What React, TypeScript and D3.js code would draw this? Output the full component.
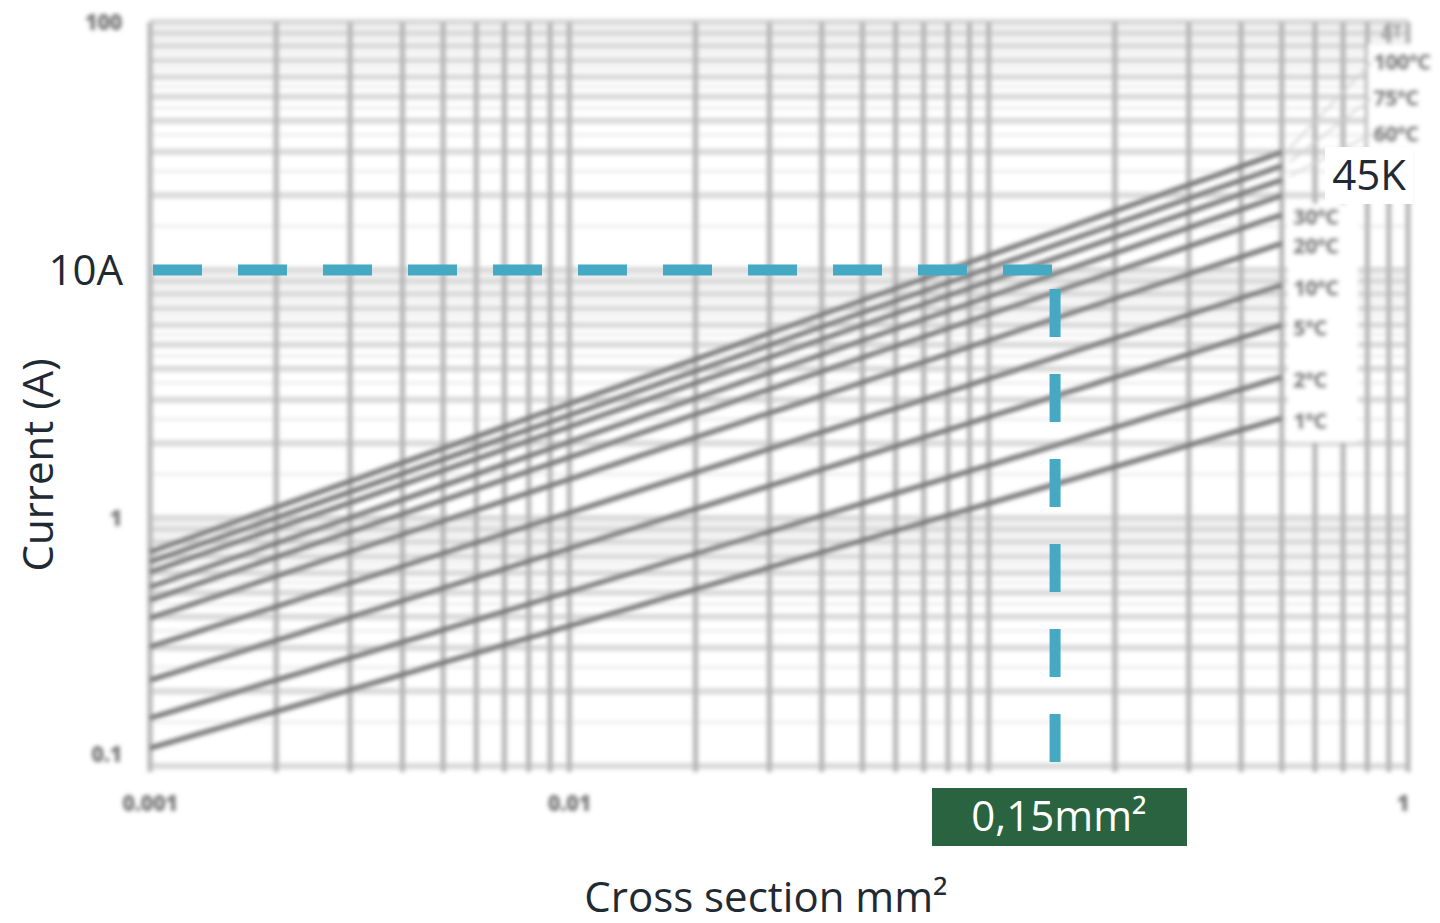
import * as d3 from 'd3';

// cross sections (mm²) at which each curve was read
const crossSections = [0.001, 0.5];
// temperature rise labels, top curve first
const riseLabels = ['100°C', '75°C', '60°C', '45°C', '30°C', '20°C', '10°C', '5°C', '2°C', '1°C'];
// current (A) at 0.001 mm² and at 0.5 mm²
const currentStart = [0.73, 0.665, 0.605, 0.527, 0.467, 0.395, 0.302, 0.222, 0.156, 0.118];
const currentEnd = [29.9, 26.3, 23.1, 20.0, 16.7, 12.8, 8.7, 6.0, 3.7, 2.53];

const xTickLabels = ['0.001', '0.01', '1'];
const xTickValues = [0.001, 0.01, 1];
const yTickLabels = ['0.1', '1', '100'];
const yTickValues = [0.1, 1, 100];

// highlighted read-off point (as drawn in the picture)
const markCurrent = 10;
const markSection = 0.144;

const W = 1440;
const H = 923;
const FONT = '"Open Sans", "Noto Sans", sans-serif';

export default function App() {
  const x = d3.scaleLog().domain([0.001, 1]).range([150, 1408]);
  const y = d3.scaleLog().domain([0.1, 100]).range([766, 22]);

  // grid values: 1..9 in each decade
  const decades = [0.001, 0.01, 0.1];
  const xGrid: number[] = [];
  decades.forEach(d => { for (let i = 1; i < 10; i++) xGrid.push(d * i); });
  xGrid.push(1);

  const yGrid: number[] = [];
  const yHalf: number[] = [];
  [0.1, 1, 10].forEach(d => {
    for (let i = 1; i < 10; i++) { yGrid.push(d * i); yHalf.push(d * (i + 0.5)); }
  });
  yGrid.push(100);

  const line = d3.line<[number, number]>().x(d => x(d[0])).y(d => y(d[1]));

  const curves = riseLabels.map((label, i) => ({
    label,
    points: [[crossSections[0], currentStart[i]], [crossSections[1], currentEnd[i]]] as [number, number][],
  }));

  const mx = x(markSection);
  const my = y(markCurrent);

  return (
    <svg width={W} height={H} style={{ position: 'absolute', left: 0, top: 0, background: '#fff' }}>
      <defs>
        <filter id="soft" x="-5%" y="-5%" width="110%" height="110%">
          <feGaussianBlur stdDeviation="2.2" />
        </filter>
      </defs>

      <g filter="url(#soft)">
        {/* horizontal grid */}
        {yHalf.map((v, i) => (
          <line key={'h' + i} x1={x(0.001)} x2={x(1)} y1={y(v)} y2={y(v)} stroke="#e4e4e4" strokeWidth={2} />
        ))}
        {yGrid.map((v, i) => (
          <line key={'g' + i} x1={x(0.001)} x2={x(1)} y1={y(v)} y2={y(v)} stroke="#d8d8d8" strokeWidth={6} />
        ))}
        {/* vertical grid */}
        {xGrid.map((v, i) => (
          <line key={'v' + i} x1={x(v)} x2={x(v)} y1={y(100)} y2={y(0.1) + 6} stroke="#b4b4b4" strokeWidth={5} />
        ))}

        {/* white panels behind the curve labels */}
        <rect x={1288} y={204} width={70} height={238} fill="#fff" />
        <rect x={1368} y={44} width={72} height={106} fill="#fff" />

        {/* leaders for the top labels */}
        {[0, 1, 2].map(i => (
          <line key={'l' + i} x1={x(crossSections[1]) + 8} y1={y(currentEnd[i]) - 4}
            x2={1372} y2={62 + i * 36} stroke="#d4d4d4" strokeWidth={2} />
        ))}

        {/* curves */}
        {curves.map(c => (
          <path key={c.label} d={line(c.points) ?? ''} fill="none" stroke="#707070" strokeWidth={5} />
        ))}

        {/* curve labels (the 45°C one sits under the 45K badge) */}
        {curves.map((c, i) => {
          if (i === 3) return null;
          const top = i < 3;
          const lx = top ? 1373 : 1293;
          const ly = top ? 62 + i * 36 : y(currentEnd[i]) + 3;
          return (
            <text key={'t' + c.label} x={lx} y={ly} dy="0.35em" fontFamily={FONT} fontWeight={800}
              fontSize={22} letterSpacing={-1} fill="#858585">{c.label}</text>
          );
        })}
        <text x={1381} y={32} dy="0.35em" fontFamily={FONT} fontWeight={700} fontSize={17} fill="#999">ΔT</text>

        {/* tick labels */}
        {yTickValues.map((v, i) => (
          <text key={'yt' + i} x={122} y={y(v) - (v === 0.1 ? 12 : 0)} dy="0.35em" textAnchor="end"
            fontFamily={FONT} fontWeight={800} fontSize={22} letterSpacing={-0.5} fill="#7a7a7a">{yTickLabels[i]}</text>
        ))}
        {xTickValues.map((v, i) => (
          <text key={'xt' + i} x={x(v) - (v === 1 ? 5 : 0)} y={803} dy="0.35em" textAnchor="middle"
            fontFamily={FONT} fontWeight={800} fontSize={22} letterSpacing={-0.5} fill="#7a7a7a">{xTickLabels[i]}</text>
        ))}
      </g>

      {/* read-off guides */}
      <line x1={x(0.001) + 3} x2={mx - 3} y1={my} y2={my} stroke="#46a9c4" strokeWidth={11}
        strokeDasharray="49 36" />
      <line x1={mx} x2={mx} y1={my + 19} y2={y(0.1) - 2} stroke="#46a9c4" strokeWidth={11}
        strokeDasharray="48 37" />

      {/* 45K badge */}
      <rect x={1325} y={147} width={88} height={57} fill="#fff" />
      <text x={1369} y={175} dy="0.35em" textAnchor="middle" fontFamily={FONT} fontSize={42} fill="#1f2a33">45K</text>

      {/* 0,15 mm² badge */}
      <rect x={932} y={788} width={255} height={58} fill="#2a6340" />
      <text x={1059} y={816} dy="0.35em" textAnchor="middle" fontFamily={FONT} fontSize={42} fill="#fff">0,15mm²</text>

      {/* axis titles */}
      <text x={123} y={270} dy="0.35em" textAnchor="end" fontFamily={FONT} fontSize={42} fill="#1f2a33">10A</text>
      <text transform={`translate(38,${465}) rotate(-90)`} dy="0.35em" textAnchor="middle" fontFamily={FONT}
        fontSize={42} fill="#1f2a33">Current (A)</text>
      <text x={766} y={897} dy="0.35em" textAnchor="middle" fontFamily={FONT} fontSize={42} fill="#1f2a33">Cross section mm²</text>
    </svg>
  );
}
